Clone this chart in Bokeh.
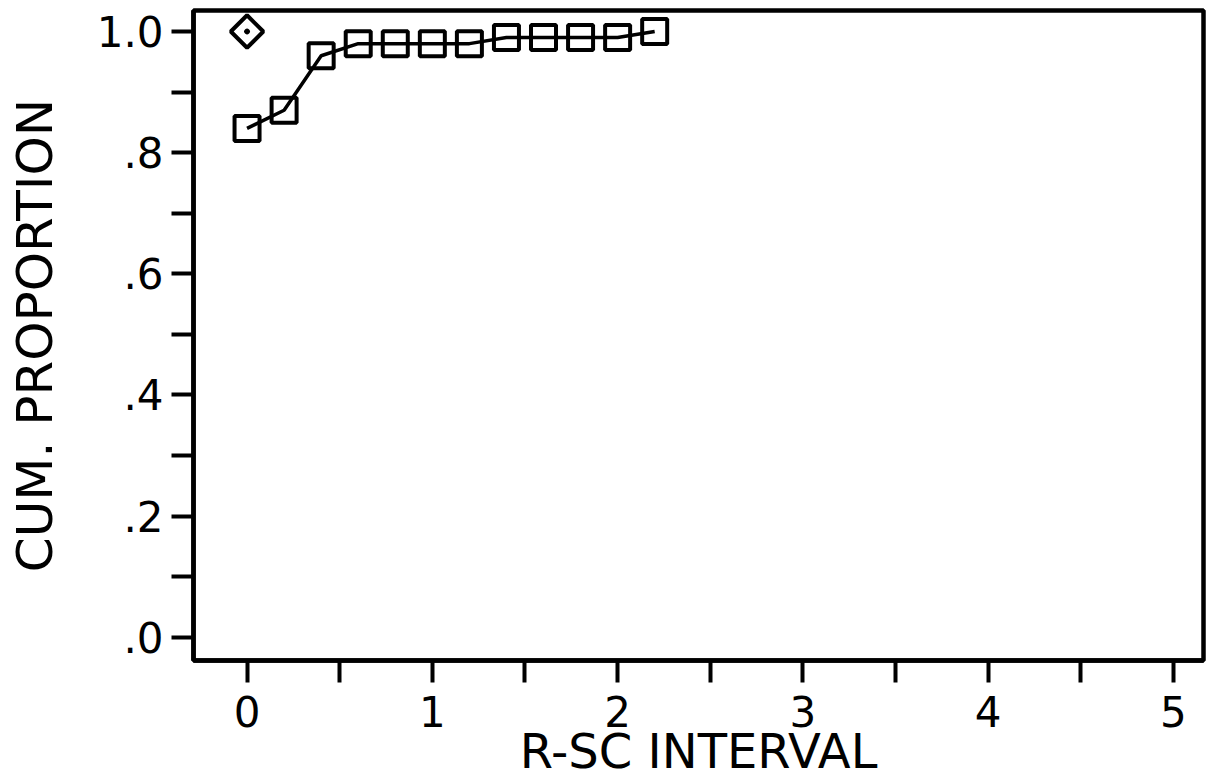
import math

from bokeh.embed import file_html
from bokeh.models import FixedTicker, Range1d
from bokeh.plotting import figure
from bokeh.resources import INLINE

# cumulative proportion by R-SC interval
interval = [0.0, 0.2, 0.4, 0.6, 0.8, 1.0, 1.2, 1.4, 1.6, 1.8, 2.0, 2.2]
cum_prop = [0.84, 0.87, 0.96, 0.98, 0.98, 0.98, 0.98, 0.99, 0.99, 0.99, 0.99, 1.00]

# reference point
ref_x = [0.0]
ref_y = [1.0]

x_major = [0, 1, 2, 3, 4, 5]
x_minor = [0.5, 1.5, 2.5, 3.5, 4.5]
x_labels = ["0", "1", "2", "3", "4", "5"]
y_major = [0.0, 0.2, 0.4, 0.6, 0.8, 1.0]
y_minor = [0.1, 0.3, 0.5, 0.7, 0.9]
y_labels = [".0", ".2", ".4", ".6", ".8", "1.0"]

x_title = "R-SC INTERVAL"
y_title = "CUM. PROPORTION"

FONT = "DejaVu Sans"

p = figure(
    width=1206,
    height=781,
    output_backend="svg",
    toolbar_location=None,
    x_range=Range1d(-0.289, 5.162),
    y_range=Range1d(-0.0385, 1.0347),
    min_border_left=193,
    min_border_right=3,
    min_border_top=10,
    min_border_bottom=121,
)
p.background_fill_color = "white"
p.border_fill_color = "white"
p.grid.visible = False
p.outline_line_color = "black"
p.outline_line_width = 4.5

# connecting line and open squares
p.line(interval, cum_prop, line_color="black", line_width=3.5)
p.scatter(interval, cum_prop, marker="square", size=25, fill_color=None,
          line_color="black", line_width=4)
# dotted diamond
p.scatter(ref_x, ref_y, marker="square_dot", size=23, angle=math.pi / 4,
          fill_color=None, line_color="black", line_width=4)

for ax, major, minor, labels in (
    (p.xaxis[0], x_major, x_minor, x_labels),
    (p.yaxis[0], y_major, y_minor, y_labels),
):
    ax.ticker = FixedTicker(ticks=major, minor_ticks=minor)
    ax.major_label_overrides = {v: s for v, s in zip(major, labels)}
    ax.axis_line_width = 4.5
    ax.axis_line_color = "black"
    ax.major_tick_in = 0
    ax.minor_tick_in = 0
    ax.major_tick_out = 22
    ax.minor_tick_out = 22
    ax.major_tick_line_width = 4
    ax.minor_tick_line_width = 4
    ax.major_tick_line_color = "black"
    ax.minor_tick_line_color = "black"
    ax.major_label_text_font = FONT
    ax.major_label_text_font_size = "42px"
    ax.major_label_text_color = "black"
    ax.axis_label_text_font = FONT
    ax.axis_label_text_font_style = "normal"
    ax.axis_label_text_color = "black"

p.xaxis.axis_label = x_title
p.yaxis.axis_label = y_title
p.xaxis.axis_label_text_font_size = "48px"
p.yaxis.axis_label_text_font_size = "50px"
p.xaxis.major_label_standoff = 13
p.xaxis.axis_label_standoff = -7
p.yaxis.major_label_standoff = 8
p.yaxis.axis_label_standoff = 30
p.yaxis.major_label_orientation = "horizontal"

open("out.html", "w").write(file_html(p, INLINE))
